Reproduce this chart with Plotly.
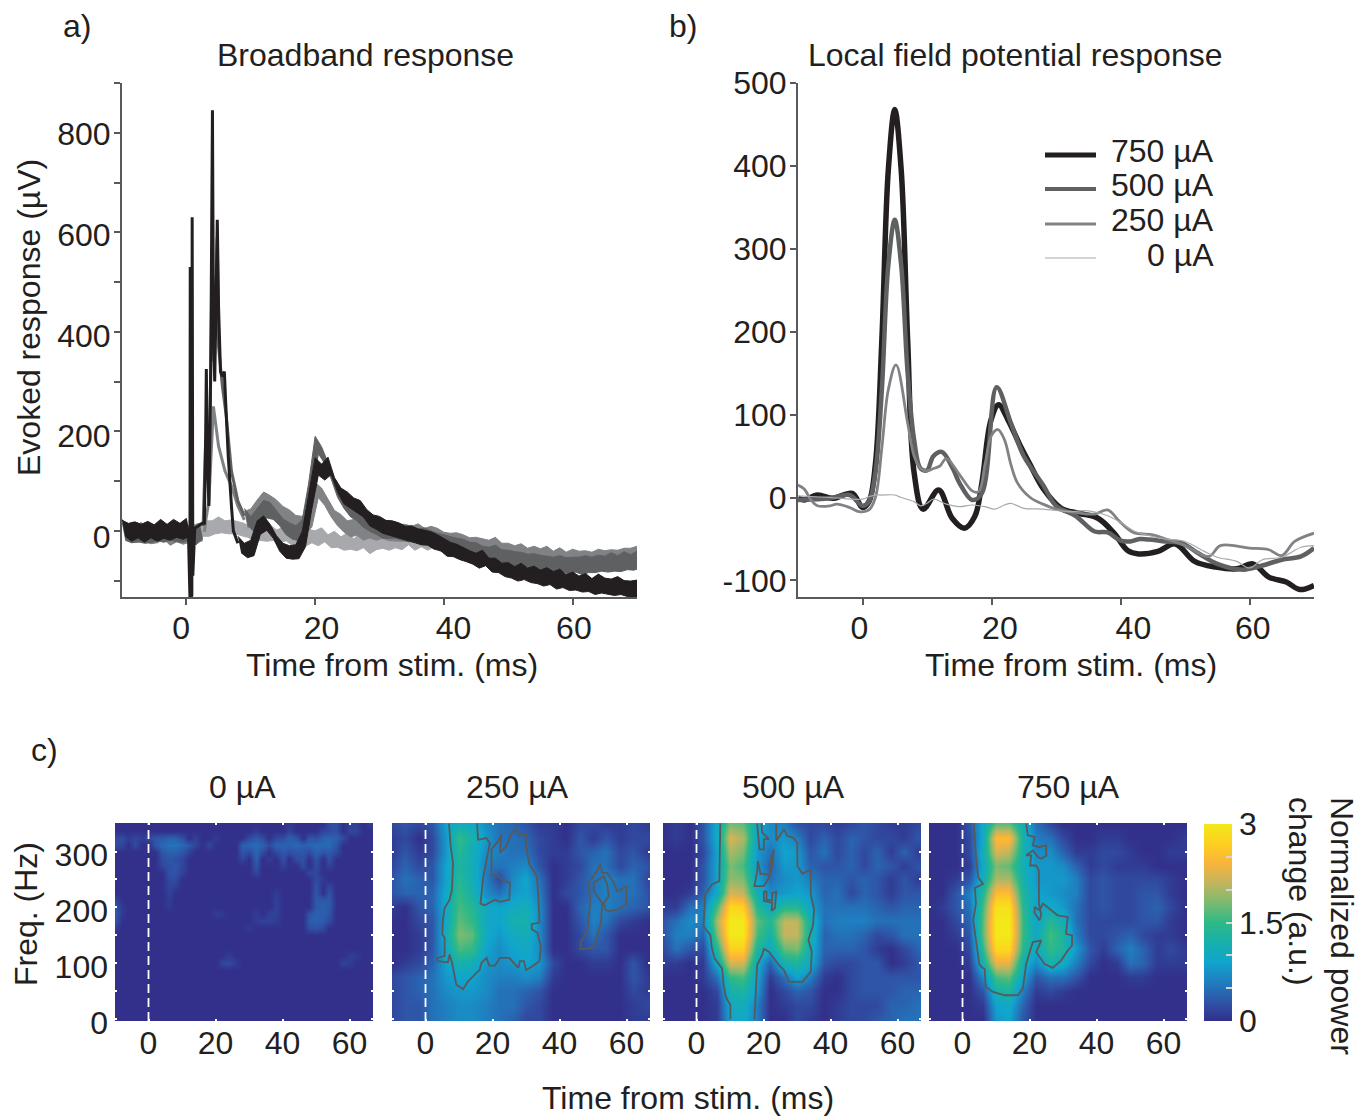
import plotly.graph_objects as go

W, H = 1370, 1120
FONT = "Liberation Sans"
INK = "#231f20"
AXIS = "#58595b"
C750, C500, C250, C0 = "#231f20", "#5f6062", "#808285", "#a7a9ac"

# ---------- panel a: broadband response (µV), 1 ms grid, None where the thin spike series takes over
band_t = list(range(-10, 71))
band_750 = [4,-4,2,-5,3,-6,4,-3,5,-2,
            6,None,None,None,None,None,None,None,-25,-38,
            -32,8,18,0,-22,-38,-42,-40,-15,60,
            130,118,130,92,72,62,52,44,28,18,
            12,6,2,0,-6,-8,-14,-14,-19,-24,
            -34,-38,-44,-50,-55,-62,-58,-70,-72,-80,
            -82,-88,-84,-90,-88,-94,-92,-98,-96,-104,
            -100,-106,-104,-112,-106,-110,-114,-110,-116,-118,-114]
band_500 = [-2,-8,-4,-9,-6,-3,-8,-2,-6,-4,
            -3,-10,0,None,None,None,None,None,None,30,
            15,30,45,40,25,10,0,-5,5,80,
            172,150,120,85,60,45,35,25,15,8,
            2,0,1,-3,-5,-6,-12,-12,-16,-20,
            -25,-28,-34,-32,-40,-42,-46,-50,-48,-54,
            -56,-60,-58,-64,-62,-68,-66,-70,-66,-72,
            -68,-72,-66,-70,-64,-68,-62,-66,-60,-64,-58]
band_250 = [5,-4,-8,-2,-10,-6,-2,-12,-6,-8,
            -6,-10,-2,None,None,None,None,None,None,22,
            28,45,60,55,45,30,25,15,10,25,
            82,70,45,25,15,5,6,0,2,-2,
            0,-4,-2,-6,-2,-8,-4,-10,-8,-14,
            -18,-22,-20,-26,-30,-28,-34,-36,-32,-40,
            -42,-46,-44,-50,-48,-52,-50,-56,-52,-58,
            -54,-60,-56,-60,-52,-58,-54,-56,-50,-54,-48]
band_0 = [2,-5,-2,-8,-3,-6,0,-10,-4,-6,
          -8,-3,2,6,8,12,6,10,4,2,
          -6,-2,-8,-4,-10,-8,-14,-10,-16,-12,
          -14,-10,-20,-16,-26,-22,-28,-20,-30,-26,
          -20,-26,-18,-24,-16,-22,-18,-24,-20,-26,
          -24,-28,-34,-30,-38,-42,-38,-46,-44,-52,
          -50,-56,-54,-62,-58,-64,-60,-68,-62,-70,
          -64,-72,-66,-70,-62,-66,-58,-64,-56,-62,-54]
# half-width of each noisy band (µV) read per ms
spread_750 = [17,19,16,18,16,18,19,16,18,17,19,16,18,19,16,17,18,14,14,13,
              13,12,12,13,12,13,12,12,14,14,17,16,18,15,14,16,14,17,15,14,
              17,15,18,16,15,17,18,15,17,16,18,15,17,16,15,17,19,15,17,15,
              18,16,19,15,17,15,18,16,19,16,17,15,18,16,19,15,17,18,16,17,15]
spread_500 = [17,15,18,16,19,15,17,14,18,16,15,17,15,14,14,15,16,17,14,15,
              13,15,16,17,15,14,16,15,17,16,18,19,17,15,16,15,17,15,16,15,
              17,15,16,18,15,17,15,18,16,15,17,16,19,15,17,18,15,17,19,16,
              17,18,15,17,16,19,15,17,16,18,15,19,16,17,15,17,18,16,18,16,17]
spread_250 = [18,15,17,19,15,17,16,18,14,16,17,15,14,14,14,14,14,15,16,17,
              16,17,18,16,17,19,17,16,19,18,15,16,17,16,18,15,17,15,18,16,
              15,17,16,19,15,17,18,15,17,19,15,17,16,18,16,15,18,17,19,15,
              17,16,18,15,17,16,19,15,18,15,17,19,16,17,15,18,16,17,15,19,17]
spread_0 = [14,12,16,13,17,12,15,13,16,14,12,15,13,14,12,16,14,12,15,13,
            12,15,14,16,12,14,16,13,12,15,14,16,12,15,14,17,12,14,16,13,
            15,12,16,14,12,15,13,17,14,12,16,12,15,14,16,12,14,15,13,17,
            12,15,14,16,12,16,14,17,13,15,12,16,14,17,12,15,16,13,15,14,16]

spike_750_t = [0.3,0.45,0.55,0.6,0.68,0.85,0.9,1.0,1.1,1.3,2.5,2.8,3.0,3.1,3.25,3.5,3.8,4.05,4.2,4.4,4.6,4.8,5.0,5.3,5.6,5.9,6.1,6.5,7.0,7.3,8.0]
spike_750_v = [5,-133,-133,530,-133,-130,630,-90,-60,5,15,15,200,325,150,50,350,845,420,300,450,625,450,320,310,320,260,150,50,0,-25]
spike_500_t = [2.6,3.0,3.2,3.6,4.0,4.3,4.8,5.0,5.6,6.2,7.0,8.0,9.0]
spike_500_v = [10,180,120,120,560,340,590,370,290,230,120,60,30]
spike_250_t = [2.8,3.0,3.5,4.2,5.0,6.0,7.0,8.0,9.0]
spike_250_v = [-2,20,60,250,170,120,90,50,22]

# ---------- panel b: local field potential (µV)
lfp_750_t = [-10,-9,-7,-4.6,-1.6,0,1,2,3,4,5,6,7,8,9.4,11.8,13.9,15.8,17.4,18.5,19.9,21.1,22.6,24.3,25.9,28,30.8,33.5,36.5,39,41.1,42.8,45.8,48.5,51.5,54.8,58,60.5,63,65.7,67.8,70]
lfp_750_v = [-1,-3,3,-1,5,-12,-5,40,190,395,468,395,190,30,-14,9,-25,-37,-23,17,93,112,93,65,41,11,-13,-19,-25,-43,-64,-68,-65,-56,-77,-84,-86,-80,-96,-102,-111,-106]
lfp_500_t = [-10,-5,-2,0,1,2,3,4,5,6,7,8,9,10,11,12.3,14,15,17,18.5,20.8,23,25,28,30,33,36,38,40,41.5,43,47,49.5,52,55,59,62,65,68,70]
lfp_500_v = [-3,-1,3,-10,-5,30,130,280,335,280,150,70,35,33,50,55,35,18,-3,5,133,90,50,15,-10,-22,-41,-42,-52,-53,-50,-53,-55,-67,-80,-87,-82,-75,-71,-61]
lfp_250_t = [-10,-9,-8,-7,-5,-4,-2,-0.5,1,2,3,4,5.2,7,8,9,10,11,12,13,15,17,18,19,20,21,22,23,24,26,28,30,33,36,38,40,42,45,47,50,53.7,55.5,60,63,65,67,70]
lfp_250_v = [15,10,-3,-10,-10,-8,-12,-17,-15,0,60,130,160,90,50,35,32,35,38,47,28,8,7,40,75,82,70,40,18,0,-8,-14,-18,-20,-15,-30,-42,-45,-50,-58,-71,-58,-61,-63,-70,-53,-43]
lfp_0_t = [-10,-5,0,1,2,3,5,6,8,9,10,11,13,15,17,19,20.5,22,23,25,28,32,35,38,40,42,45,47,50,53,55,58,60,62,65,68,70]
lfp_0_v = [2,0,-2,1,3,3,3,0,-5,-10,-7,-2,-8,-11,-9,-11,-14,-9,-7,-13,-14,-17,-16,-22,-30,-40,-47,-50,-53,-65,-72,-77,-85,-75,-72,-60,-58]

# ---------- panel c: time-frequency maps (normalized power), rows are freq, columns are time
tf_t = [-10,-6,-2,2,6,10,14,18,22,26,30,34,38,42,46,50,54,58,62,66,70]
tf_f = [0,25,50,75,100,125,150,175,200,225,250,275,300,325,350]

# 0 µA is faint and narrow: sparse readings on a finer 2 ms x 12.5 Hz grid
tf0_t = [-10 + 2*k for k in range(41)]
tf0_f = [12.5*k for k in range(29)]
tf0_readings = {
    100: {22: 0.18, 24: 0.22, 26: 0.1, 58: 0.15, 60: 0.1},
    112.5: {24: 0.1, 60: 0.12, 62: 0.1},
    162.5: {-10: 0.1, 48: 0.25, 50: 0.28, 52: 0.2, 30: 0.08},
    175: {-10: 0.3, 32: 0.1, 34: 0.14, 36: 0.14, 38: 0.1, 48: 0.33, 50: 0.38, 52: 0.33, 54: 0.2},
    187.5: {-10: 0.33, -8: 0.08, 20: 0.1, 22: 0.08, 32: 0.1, 36: 0.14, 38: 0.14, 48: 0.3, 50: 0.38, 52: 0.38, 54: 0.28},
    200: {-10: 0.3, -8: 0.08, 6: 0.08, 38: 0.14, 50: 0.33, 52: 0.38, 54: 0.33},
    212.5: {-10: 0.2, 6: 0.1, 38: 0.14, 50: 0.33, 52: 0.33, 54: 0.33},
    225: {6: 0.14, 38: 0.1, 50: 0.3, 54: 0.28},
    237.5: {6: 0.18, 8: 0.14, 50: 0.28, 54: 0.18},
    250: {6: 0.22, 8: 0.22, 50: 0.22, 52: 0.08},
    262.5: {5: 0.22, 6: 0.26, 8: 0.3, 10: 0.14, 32: 0.18, 48: 0.18, 50: 0.18},
    275: {4: 0.18, 6: 0.26, 8: 0.3, 10: 0.18, 32: 0.3, 40: 0.14, 46: 0.22, 50: 0.22, 54: 0.14},
    287.5: {4: 0.22, 6: 0.3, 8: 0.26, 10: 0.18, 28: 0.18, 32: 0.38, 36: 0.1, 40: 0.26, 44: 0.22, 46: 0.26, 50: 0.3, 54: 0.26},
    300: {4: 0.3, 6: 0.38, 8: 0.38, 10: 0.3, 12: 0.14, 28: 0.3, 30: 0.22, 32: 0.42, 34: 0.22, 38: 0.22, 40: 0.3, 42: 0.26, 44: 0.3, 46: 0.3, 48: 0.22, 50: 0.38, 52: 0.3, 54: 0.33, 56: 0.22},
    312.5: {-10: 0.22, -8: 0.18, -4: 0.22, 2: 0.3, 4: 0.45, 6: 0.52, 8: 0.52, 10: 0.45, 12: 0.3, 14: 0.18, 18: 0.18, 28: 0.38, 30: 0.42, 32: 0.45, 34: 0.42, 36: 0.22, 38: 0.38, 40: 0.42, 42: 0.38, 44: 0.45, 46: 0.38, 48: 0.42, 50: 0.45, 52: 0.45, 54: 0.45, 56: 0.3},
    325: {-10: 0.22, -8: 0.22, -6: 0.1, -4: 0.18, -2: 0.1, 0: 0.22, 2: 0.3, 4: 0.33, 6: 0.38, 8: 0.38, 10: 0.26, 14: 0.14, 20: 0.1, 30: 0.22, 32: 0.33, 34: 0.22, 38: 0.22, 40: 0.22, 42: 0.38, 44: 0.3, 48: 0.3, 50: 0.26, 52: 0.38, 54: 0.42, 56: 0.38, 58: 0.22},
    337.5: {32: 0.1, 42: 0.14, 52: 0.18, 54: 0.22, 56: 0.26, 60: 0.18, 62: 0.18},
    350: {42: 0.1, 54: 0.22, 56: 0.26, 60: 0.14, 62: 0.14, 66: 0.1},
}
tf_0 = [[tf0_readings.get(f, {}).get(t, 0) for t in tf0_t] for f in tf0_f]

tf_250 = [
[0.2,0.3,0.3,0.5,0.6,0.7,0.7,0.6,0.5,0.4,0.2,0.2,0,0,0,0,0,0,0.1,0.1,0.1],
[0.2,0.3,0.3,0.5,0.6,0.7,0.7,0.6,0.5,0.5,0.3,0.2,0,0,0,0,0,0,0.1,0.2,0.1],
[0.2,0.3,0.4,0.5,0.7,0.8,0.8,0.7,0.5,0.5,0.4,0.3,0,0,0,0,0,0,0.2,0.1,0.1],
[0.2,0.3,0.4,0.5,0.8,0.9,0.9,0.7,0.6,0.6,0.7,0.6,0.1,0,0,0,0,0,0.3,0.1,0],
[0,0.1,0.2,0.4,0.9,1.2,1.1,0.8,0.7,0.8,0.9,0.8,0.2,0,0,0.1,0.1,0,0.3,0,0],
[0,0,0.1,0.3,1.0,1.6,1.5,0.9,0.7,0.9,1.0,0.7,0,0,0.2,0.3,0.3,0,0,0,0],
[0,0,0.1,0.3,1.1,1.8,1.7,1.0,0.8,1.0,1.1,0.7,0,0,0.2,0.5,0.3,0,0,0,0],
[0,0,0.2,0.3,1.0,1.7,1.5,1.0,0.9,1.2,1.2,0.7,0,0,0.3,0.6,0.5,0.2,0.1,0,0],
[0.1,0,0.3,0.4,1.0,1.6,1.4,1.0,0.9,1.0,1.1,0.7,0,0,0.4,0.6,0.6,0.5,0.4,0.3,0],
[0.3,0.4,0.4,0.4,1.0,1.5,1.2,0.7,0.5,0.8,0.9,0.6,0,0.2,0.3,0.5,0.6,0.5,0.5,0.3,0],
[0.3,0.5,0.4,0.3,0.9,1.4,1.1,0.6,0.2,0.7,0.9,0.5,0,0.1,0.3,0.5,0.6,0.5,0.5,0.2,0],
[0.2,0.4,0.2,0.3,0.9,1.3,1.1,0.6,0.5,0.6,0.7,0.3,0,0.1,0.2,0.5,0.5,0.2,0.4,0.3,0],
[0.1,0.3,0.1,0.2,0.8,1.4,1.1,0.7,0.6,0.5,0.5,0.2,0.1,0.1,0.3,0.4,0.5,0.2,0.3,0.1,0.1],
[0.1,0.2,0,0.2,0.8,1.5,1.2,0.8,0.5,0.5,0.4,0.2,0.1,0,0.3,0.1,0.3,0.1,0.2,0.2,0.1],
[0.2,0.3,0.2,0.3,0.9,1.1,1.0,0.7,0.5,0.4,0.3,0.1,0.1,0,0.2,0.2,0.1,0.1,0.2,0.1,0.1],
]
tf_500 = [
[0,0,0,0,0.1,0.9,1.0,0.6,0,0,0.2,0.1,0,0.1,0.2,0.2,0.3,0.4,0.5,0.5,0.5],
[0,0,0,0,0.1,1.0,1.1,0.6,0,0.1,0.2,0.2,0,0.1,0.2,0.2,0.2,0.4,0.4,0.5,0.5],
[0,0,0,0,0.2,1.2,1.3,0.8,0,0.2,0.4,0.3,0,0,0.2,0.3,0.3,0.3,0.4,0.4,0.4],
[0,0,0,0.1,0.5,1.5,1.6,0.9,0.1,0.5,0.9,0.6,0.1,0,0.2,0.3,0.3,0.3,0.3,0.3,0.3],
[0.1,0.1,0,0.1,1.0,2.2,2.2,1.0,0.4,1.2,1.3,1.0,0.3,0.2,0.2,0.3,0.3,0,0.1,0.3,0.3],
[0.2,0.5,0.3,0.2,1.4,2.7,2.7,1.3,1.0,1.7,1.8,1.1,0.4,0.4,0.4,0.3,0.1,0,0.2,0.4,0.4],
[0.3,0.6,0.6,0.4,1.8,3.0,3.0,1.6,1.2,2.1,2.1,1.2,0.4,0.5,0.5,0.4,0.2,0.3,0.5,0.5,0.4],
[0.3,0.5,0.7,0.6,2.0,3.0,3.0,1.7,1.4,2.1,2.1,1.2,0.5,0.6,0.6,0.6,0.5,0.5,0.5,0.5,0.5],
[0.1,0.1,0.5,0.6,1.6,2.8,2.7,1.4,1.0,1.4,1.4,0.9,0.5,0.5,0.5,0.5,0.4,0.3,0.4,0.4,0.4],
[0,0,0.1,0.4,1.0,2.2,2.1,1.1,0.7,0.8,0.9,0.8,0.4,0.5,0.2,0.4,0.3,0.1,0.3,0.3,0.3],
[0,0,0,0.3,0.9,1.9,1.8,0.9,0.5,0.7,0.8,0.6,0.4,0.4,0.3,0.4,0.3,0.1,0.3,0.1,0.3],
[0,0,0,0.3,0.9,1.8,1.6,0.8,0.4,0.8,0.8,0.4,0.3,0.3,0.4,0.2,0.4,0.3,0.1,0.3,0.1],
[0,0,0,0.2,0.9,2.0,1.8,0.8,0.5,0.9,0.8,0.3,0.5,0.2,0.4,0.2,0.4,0.1,0.4,0.1,0.3],
[0,0.1,0,0.3,1.0,2.2,2.0,0.9,0.7,0.8,0.6,0.2,0.4,0.2,0.4,0.3,0.2,0.2,0.1,0.3,0.2],
[0,0.1,0,0.3,1.0,1.8,1.7,1.0,0.7,0.6,0.3,0.2,0.2,0.1,0.2,0.3,0.2,0.1,0.1,0.2,0.1],
]
tf_750 = [
[0,0,0,0,0,0.8,0.9,0.3,0,0,0,0,0,0,0,0,0,0,0,0,0],
[0,0,0,0,0.1,0.9,1.0,0.4,0,0,0,0,0,0,0,0,0,0,0,0,0],
[0,0,0,0,0.3,1.2,1.3,0.6,0.1,0.2,0.1,0,0,0,0,0,0,0,0,0,0],
[0,0,0,0,0.7,1.6,1.7,0.9,0.3,0.5,0.5,0.3,0,0,0,0.1,0.1,0,0,0,0],
[0,0,0,0.1,1.2,2.3,2.3,1.1,0.7,1.2,1.0,0.6,0.2,0,0.1,0.5,0.4,0.1,0.1,0.1,0],
[0,0,0,0.2,1.5,2.8,2.8,1.4,1.0,1.5,1.3,0.8,0.3,0.1,0.4,0.6,0.4,0.1,0.2,0.1,0],
[0,0,0.1,0.3,1.7,3.0,3.0,1.5,1.0,1.6,1.3,0.6,0.2,0.2,0.3,0.4,0.2,0.1,0.1,0,0],
[0,0,0.2,0.4,1.7,3.0,3.0,1.5,0.9,1.4,1.1,0.5,0.2,0.2,0.2,0.2,0.3,0.3,0.1,0,0],
[0,0.1,0.3,0.5,1.6,2.9,2.9,1.4,0.9,1.0,0.8,0.5,0.2,0.3,0.2,0.2,0.3,0.4,0.2,0,0],
[0,0,0.3,0.6,1.4,2.5,2.5,1.3,0.9,0.8,0.7,0.6,0.2,0.3,0.2,0.2,0.3,0.3,0.1,0,0],
[0,0,0.1,0.3,1.1,2.0,2.0,1.2,0.8,0.8,0.8,0.6,0.2,0.3,0.2,0.2,0.2,0.2,0.1,0,0],
[0,0,0,0.1,1.0,1.8,1.7,1.1,0.8,0.8,0.7,0.4,0.1,0.2,0.1,0.1,0.1,0,0,0,0],
[0,0,0,0.2,1.1,2.2,2.1,1.2,0.7,0.7,0.4,0.1,0.1,0.2,0.2,0.1,0,0,0.1,0.1,0],
[0,0,0,0.2,1.0,2.5,2.5,1.2,0.6,0.5,0.2,0,0,0.1,0.1,0,0,0,0,0.1,0],
[0,0,0,0.3,1.0,1.7,1.7,1.1,0.5,0.2,0,0,0,0,0,0,0,0,0,0,0],
]

# significance outlines: (time ms, freq Hz)
c250_a_t = [7,7.5,8.2,7.9,7.2,5.7,5.2,5,5.7,5.7,3.4,3.7,6.7,7.2,7.9,9.2,11.2,12.7,16.2,16.7,18.2,19,20.7,22.2,25,27.7,28.2,29.4,30,31.7,34,34.4,33.4,31.7,31.7,34,33.7,33.2,31,30,30,27.7,27,25.4,24.2,22.2,22.7,21.2,19.7,19.7,21.4,22.7,25.2,25,22.2,20.7,17.7,16.4,17.2,19.2,18.2,15.7,15.4]
c250_a_f = [350,310,280,232,214,199,179,152,146,113,110,104,102,116,101,62,54,68,89,101,110,96,96,110,110,92,104,104,88,94,104,131,155,161,170,173,220,256,277,310,330,330,340,330,310,298,330,315,304,256,259,250,244,214,210,214,204,207,253,315,324,321,350]
c250_b_t = [46.2,46.4,48.2,49.2,48.7,51.2,52.2,52.7,54.2,56.2,57.2,60,60,57.2,54.7,53.7,53.2,54.7,54.2,53.2,51.7,50.2,50.2,52.7,52.4,51.2,50.2,46.2]
c250_b_f = [125,140,155,211,244,265,277,262,262,244,229,237,205,196,193,196,208,220,241,256,250,244,229,208,173,146,128,125]

c500_a_t = [7.1,6.8,4.6,2.6,2.1,4.1,4.6,5.4,7.6,8.1,8.8,10.1,10.1]
c500_a_f = [350,247,241,223,166,151,127,109,91,61,40,25,0]
c500_b_t = [17.3,17.6,18.1,19.6,20.1,21.6,24.6,26.1,27.6,31.6,34.1,34.4,33.4,34.8,35.1,34.1,34.1,31.6,30.1,30.1,28.8,27.1,26.1,23.8,23.8]
c500_b_f = [0,31,97,115,126,121,97,88,67,67,85,121,142,169,196,223,268,260,274,316,325,328,340,319,350]
c500_c_t = [18.1,18.8,20.1,20.1,21.6,19.6,19.4]
c500_c_f = [350,304,304,322,322,334,350]
c500_d_t = [23.1,21.8,22.1,19.1,18.3,18.1,17.3,20.1,21.6,22.6,23.1]
c500_d_f = [304,277,259,260,283,265,238,238,253,274,304]
c500_e_t = [20.1,20.1,22.6,22.4,23.4,23.8,22.6,22.6,20.9,20.9,20.1]
c500_e_f = [229,212,208,194,199,228,226,212,214,228,229]

c750_a_t = [3.4,4,4.7,6.1,3.7,4,3.2,4,5,5.9,6.6,6.9,9.1,12.6,16.5,18,19,20.5,21,23.5,22,24.5,26.9,29.4,31.4,32.7,32.7,30.9,31.4,28.4,25.9,24,23,21.5,21.5,23,23.5,22.8,22.8,22,20.2,20.5,19,21,22.5,23.5,25,25,22.8,21,21.5,19.5,19]
c750_a_f = [350,290,254,242,235,207,177,141,99,92,90,58,49,43,43,55,99,129,138,141,120,99,92,105,123,132,150,153,183,186,198,207,195,201,190,177,186,207,266,275,275,293,293,302,290,287,293,311,308,311,326,329,350]

# axis ticks and where the reference prints their labels
a_xticks = [0, 20, 40, 60]
a_xlabel_at = [-0.8, 21, 41.5, 60.2]
a_yticks = [-100, 0, 100, 200, 300, 400, 500, 600, 700, 800, 900]
a_ylabel_at = [-12, 191, 392, 595, 798]
a_ylabels = ["0", "200", "400", "600", "800"]
b_xlabel_at = [-0.5, 21.3, 42, 60.5]
xlabels = ["0", "20", "40", "60"]
b_yticks = [-100, 0, 100, 200, 300, 400, 500]
b_ylabels = ["-100", "0", "100", "200", "300", "400", "500"]
tf_xticks = [0, 20, 40, 60]
tf_yticks = [0, 50, 100, 150, 200, 250, 300, 350]
tf_ylabels = ["0", "", "100", "", "200", "", "300", ""]
cb_ticks = [0, 0.5, 1, 1.5, 2, 2.5, 3]
cb_labels = ["0", "", "", "1.5", "", "", "3"]
legend_names = ["750 µA", "500 µA", "250 µA", "0 µA"]
parula = [[0,"#32308a"],[0.1,"#2f55a8"],[0.2,"#1f7fc0"],[0.3,"#10a5cd"],[0.4,"#17b0ab"],
          [0.5,"#2db987"],[0.6,"#7cba70"],[0.7,"#c2b55e"],[0.8,"#f9b33a"],[0.9,"#fdd020"],[1,"#f2e81a"]]

def dx(px): return px / W
def dy(py): return 1 - py / H

fig = go.Figure()

def line(x, y, color, width, xa="x", ya="y", shape="linear"):
    fig.add_trace(go.Scatter(x=x, y=y, mode="lines", xaxis=xa, yaxis=ya, showlegend=False, hoverinfo="skip",
                             line=dict(color=color, width=width, shape=shape)))

def band(center, spread, color):
    """Noisy trace drawn as the filled envelope of its readings, one polygon per unbroken stretch."""
    low = spread[::-1]
    run = []
    for i, c in enumerate(center + [None]):
        if c is not None:
            run.append(i)
        elif run:
            xs = [band_t[j] for j in run] + [band_t[j] + 0.5 for j in reversed(run)]
            ys = [center[j] + spread[j] for j in run] + [center[j] - low[j] for j in reversed(run)]
            fig.add_trace(go.Scatter(x=xs, y=ys, mode="lines", fill="toself", fillcolor=color, showlegend=False,
                                     hoverinfo="skip", line=dict(color=color, width=1), xaxis="x", yaxis="y"))
            run = []

# panel a
band(band_0, spread_0, C0)
band(band_250, spread_250, C250)
line(spike_250_t, spike_250_v, C250, 3)
band(band_500, spread_500, C500)
line(spike_500_t, spike_500_v, C500, 3)
band(band_750, spread_750, C750)
line(spike_750_t, spike_750_v, C750, 3)

# panel b
line(lfp_750_t, lfp_750_v, C750, 5.5, "x2", "y2", "spline")
line(lfp_500_t, lfp_500_v, C500, 4.5, "x2", "y2", "spline")
line(lfp_250_t, lfp_250_v, C250, 2.8, "x2", "y2", "spline")
line(lfp_0_t, lfp_0_v, C0, 1.2, "x2", "y2", "spline")

# panel c
outlines = [
    [],
    [(c250_a_t, c250_a_f), (c250_b_t, c250_b_f)],
    [(c500_a_t, c500_a_f), (c500_b_t, c500_b_f), (c500_c_t, c500_c_f), (c500_d_t, c500_d_f), (c500_e_t, c500_e_f)],
    [(c750_a_t, c750_a_f)],
]
grids = [(tf0_t, tf0_f), (tf_t, tf_f), (tf_t, tf_f), (tf_t, tf_f)]
for i, z in enumerate([tf_0, tf_250, tf_500, tf_750]):
    xa, ya = f"x{i+3}", f"y{i+3}"
    fig.add_trace(go.Heatmap(x=grids[i][0], y=grids[i][1], z=z, xaxis=xa, yaxis=ya, coloraxis="coloraxis",
                             zsmooth="best", hoverinfo="skip"))
    for ox, oy in outlines[i]:
        line(ox, oy, AXIS, 1.8, xa, ya)

FS = 32
tickfont = dict(family=FONT, size=FS, color=INK)
common = dict(showgrid=False, zeroline=False, tickfont=tickfont, fixedrange=True)
line_ax = dict(showline=True, linecolor=AXIS, linewidth=2)

layout = dict(
    width=W, height=H, margin=dict(l=0, r=0, t=0, b=0, autoexpand=False), paper_bgcolor="white", plot_bgcolor="white",
    showlegend=False, font=dict(family=FONT, size=FS, color=INK),
    xaxis=dict(**common, **line_ax, domain=[dx(122), dx(637)], range=[-10, 70], anchor="y",
               tickmode="array", tickvals=a_xlabel_at, ticktext=xlabels, ticks="", ticklabelstandoff=2,
               minor=dict(tickmode="array", tickvals=a_xticks, ticks="outside", ticklen=6, tickwidth=2, tickcolor=AXIS)),
    yaxis=dict(**common, **line_ax, domain=[dy(597), dy(83)], range=[-133, 900], anchor="x",
               tickmode="array", tickvals=a_ylabel_at, ticktext=a_ylabels, ticks="", ticklabelstandoff=3,
               minor=dict(tickmode="array", tickvals=a_yticks, ticks="outside", ticklen=6, tickwidth=2, tickcolor=AXIS)),
    xaxis2=dict(**common, **line_ax, domain=[dx(798), dx(1314)], range=[-10, 70], anchor="y2",
                tickmode="array", tickvals=b_xlabel_at, ticktext=xlabels, ticks="", ticklabelstandoff=2,
                minor=dict(tickmode="array", tickvals=a_xticks, ticks="outside", ticklen=6, tickwidth=2, tickcolor=AXIS)),
    yaxis2=dict(**common, **line_ax, domain=[dy(597), dy(83)], range=[-120, 500], anchor="x2",
                tickmode="array", tickvals=b_yticks, ticktext=b_ylabels, ticks="outside", ticklen=6, tickwidth=2,
                tickcolor=AXIS, ticklabelstandoff=-3),
    coloraxis=dict(cmin=0, cmax=3, colorscale=parula,
                   colorbar=dict(x=dx(1204), xanchor="left", y=dy(1021), yanchor="bottom",
                                 len=197, lenmode="pixels", thickness=28, thicknessmode="pixels",
                                 xpad=0, ypad=0, outlinewidth=0, tickmode="array", tickvals=cb_ticks, ticktext=cb_labels,
                                 ticks="inside", ticklen=6, tickwidth=1.5, tickcolor="#d1d3d4", tickfont=tickfont)),
)
lefts = [115, 392, 663, 929]
dot = dict(ticks="inside", ticklen=2, tickwidth=2, tickcolor="white")
for i, left in enumerate(lefts):
    n = i + 3
    layout[f"xaxis{n}"] = dict(**common, domain=[dx(left), dx(left + 258)], range=[-10, 67], anchor=f"y{n}",
                               tickmode="array", tickvals=tf_xticks, mirror="ticks", showline=False,
                               ticklabelstandoff=0, **dot)
    layout[f"yaxis{n}"] = dict(**common, domain=[dy(1021), dy(823)], range=[-3, 351], anchor=f"x{n}",
                               tickmode="array", tickvals=tf_yticks, ticktext=tf_ylabels,
                               mirror="ticks", showline=False, showticklabels=(i == 0), ticklabelstandoff=6,
                               ticklabelshift=3, **dot)
fig.update_layout(**layout)

# dashed stimulus-onset markers
for n in range(3, 7):
    fig.add_shape(type="line", xref=f"x{n}", yref=f"y{n}", x0=0, x1=0, y0=-3, y1=351,
                  line=dict(color="white", width=1.8, dash="9px,5px"), layer="above")

def text(s, px, py, anchor="center", angle=0, size=FS, align="center"):
    fig.add_annotation(text=s, x=dx(px), y=dy(py), xref="paper", yref="paper", showarrow=False, xanchor=anchor,
                       yanchor="middle", textangle=angle, align=align, font=dict(family=FONT, size=size, color=INK))

for s, px, py in [("a)", 77, 26), ("b)", 683, 26), ("c)", 44, 750),
                  ("Broadband response", 366, 55), ("Local field potential response", 1015, 55),
                  ("Time from stim. (ms)", 392, 665), ("Time from stim. (ms)", 1071, 665),
                  ("Time from stim. (ms)", 688, 1098),
                  ("0 µA", 242, 787), ("250 µA", 517, 787), ("500 µA", 793, 787), ("750 µA", 1068, 787)]:
    text(s, px, py)
text("Evoked response (µV)", 29, 318, angle=-90)
text("Freq. (Hz)", 26, 914, angle=-90)
text("Normalized power<br>change (a.u.)", 1321, 926, angle=90, align="left")

# legend keys (panel b)
for name, color, width, py_line, py_text in zip(legend_names, [C750, C500, C250, C0], [5, 4, 2.8, 1.2],
                                                [155, 189, 224, 258], [151, 185, 220, 255]):
    fig.add_shape(type="line", xref="paper", yref="paper", x0=dx(1045), x1=dx(1096), y0=dy(py_line), y1=dy(py_line),
                  line=dict(color=color, width=width))
    text(name, 1216, py_text, anchor="right")

fig.write_html("out.html", post_script="document.body.style.margin='0';", config={"displayModeBar": False})
